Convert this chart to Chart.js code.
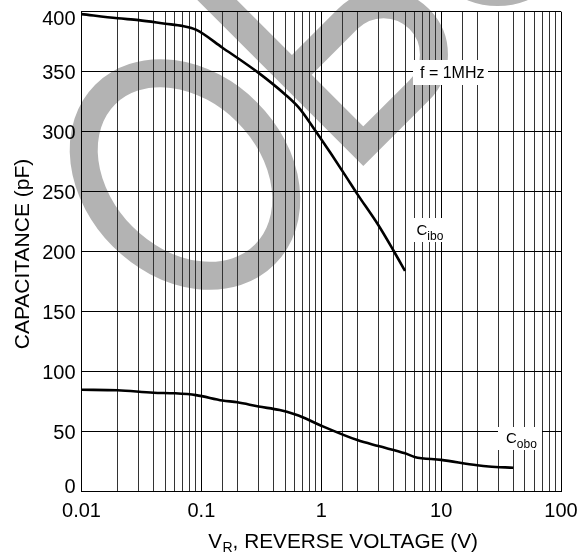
<!DOCTYPE html>
<html>
<head>
<meta charset="utf-8">
<script src="https://cdn.jsdelivr.net/npm/chart.js@4/dist/chart.umd.min.js"></script>
<style>
  html, body { margin: 0; padding: 0; background: #fff; }
  #wrap { width: 585px; height: 552px; }
</style>
</head>
<body>
<div id="wrap"><canvas id="cap" width="585" height="552"></canvas></div>
<script>
// Input capacitance Cibo versus reverse voltage
const ciboVoltage = [0.01, 0.02, 0.03, 0.05, 0.07, 0.09, 0.15, 0.3, 0.5, 0.65, 0.85, 1.2, 1.6, 2, 3, 4, 5];
const ciboCap     = [398, 394.5, 393, 390, 388, 385, 370, 349, 331, 320, 304, 282, 263, 248, 222, 201, 184];

// Output capacitance Cobo versus reverse voltage
const coboVoltage = [0.01, 0.02, 0.04, 0.06, 0.09, 0.15, 0.2, 0.3, 0.45, 0.6, 0.7, 1, 2, 3, 5, 6, 10, 20, 25, 40];
const coboCap     = [85, 84.5, 82.5, 82, 80.5, 76, 74.5, 71, 68, 64.5, 62, 55, 43, 38, 32, 29, 26.5, 22, 21, 20];

// Axis ticks
const xTickValues = [0.01, 0.1, 1, 10, 100];
const xTickLabels = ['0.01', '0.1', '1', '10', '100'];
const yTickValues = [0, 50, 100, 150, 200, 250, 300, 350, 400];

const FONT = '"Liberation Sans", Arial, Helvetica, sans-serif';

function toPoints(xs, ys) {
  return xs.map((x, i) => ({ x: x, y: ys[i] }));
}

function isDecade(v) {
  const l = Math.log10(v);
  return Math.abs(l - Math.round(l)) < 1e-9;
}

// Grey "OBSOLETE" stamp lying under the grid
const stampPlugin = {
  id: 'stamp',
  beforeDraw(chart) {
    const ctx = chart.ctx;
    ctx.save();
    ctx.fillStyle = '#ffffff';
    ctx.fillRect(0, 0, chart.width, chart.height);
    ctx.strokeStyle = 'rgb(179,179,179)';
    ctx.lineWidth = 28;
    ctx.lineJoin = 'miter';
    // letter O
    ctx.beginPath();
    ctx.ellipse(185, 174.5, 113, 88, Math.PI / 4, 0, Math.PI * 2);
    ctx.stroke();
    // letter B (lower bowl and stem)
    ctx.save();
    ctx.translate(363.3, 166);
    ctx.rotate(-Math.PI / 4);
    ctx.beginPath();
    ctx.moveTo(14, -420);
    ctx.lineTo(14, -14);
    ctx.lineTo(93, -14);
    ctx.arc(93, -64.5, 50.5, Math.PI / 2, -Math.PI / 2, true);
    ctx.lineTo(14, -115);
    ctx.stroke();
    ctx.restore();
    // edge of letter S
    ctx.beginPath();
    ctx.arc(497.5, -74, 66, 0, Math.PI * 2);
    ctx.stroke();
    ctx.restore();
  }
};

// Tick labels, axis titles and curve annotations
const textPlugin = {
  id: 'texts',
  afterDraw(chart) {
    const ctx = chart.ctx;
    const area = chart.chartArea;
    const xs = chart.scales.x;
    const ys = chart.scales.y;
    ctx.save();
    ctx.fillStyle = '#000';

    // y tick labels
    ctx.font = '20px ' + FONT;
    ctx.textAlign = 'right';
    ctx.textBaseline = 'alphabetic';
    yTickValues.forEach(v => {
      const py = ys.getPixelForValue(v);
      let base = py + 7.2;
      base = Math.max(base, area.top + 13.3);
      base = Math.min(base, area.bottom + 1.6);
      ctx.fillText(String(v), 75.5, base);
    });

    // x tick labels
    ctx.textAlign = 'center';
    xTickValues.forEach((v, i) => {
      const px = xs.getPixelForValue(v);
      ctx.fillText(xTickLabels[i], px, 517);
    });

    // x axis title with subscript
    ctx.textAlign = 'left';
    let x0 = 208.3;
    ctx.font = '20.5px ' + FONT;
    ctx.fillText('V', x0, 548);
    x0 += ctx.measureText('V').width;
    ctx.font = '14px ' + FONT;
    ctx.fillText('R', x0 + 0.5, 552);
    x0 += ctx.measureText('R').width + 0.5;
    ctx.font = '20.8px ' + FONT;
    ctx.fillText(', REVERSE VOLTAGE (V)', x0, 548);

    // y axis title
    ctx.save();
    ctx.translate(28.5, 254);
    ctx.rotate(-Math.PI / 2);
    ctx.textAlign = 'center';
    ctx.font = '21px ' + FONT;
    ctx.fillText('CAPACITANCE (pF)', 0, 0);
    ctx.restore();

    // annotation boxes
    ctx.fillStyle = '#fff';
    ctx.fillRect(413, 60, 75, 25);
    ctx.fillRect(413, 218, 34, 24);
    ctx.fillRect(498, 427, 44, 23);
    ctx.fillStyle = '#000';

    ctx.textAlign = 'left';
    ctx.font = '16px ' + FONT;
    ctx.fillText('f = 1MHz', 420, 77.5);

    ctx.font = '15px ' + FONT;
    ctx.fillText('C', 416.5, 235);
    let cw = ctx.measureText('C').width;
    ctx.font = '12px ' + FONT;
    ctx.fillText('ibo', 416.5 + cw, 240);

    ctx.font = '15px ' + FONT;
    ctx.fillText('C', 506, 442.7);
    cw = ctx.measureText('C').width;
    ctx.font = '12px ' + FONT;
    ctx.fillText('obo', 506 + cw, 448.3);

    ctx.restore();
  }
};

new Chart(document.getElementById('cap'), {
  type: 'scatter',
  data: {
    datasets: [
      {
        label: 'Cibo',
        data: toPoints(ciboVoltage, ciboCap),
        showLine: true,
        borderColor: '#000',
        borderWidth: 2.6,
        pointRadius: 0,
        cubicInterpolationMode: 'monotone',
        borderJoinStyle: 'round'
      },
      {
        label: 'Cobo',
        data: toPoints(coboVoltage, coboCap),
        showLine: true,
        borderColor: '#000',
        borderWidth: 2.6,
        pointRadius: 0,
        cubicInterpolationMode: 'monotone',
        borderJoinStyle: 'round'
      }
    ]
  },
  options: {
    responsive: false,
    animation: false,
    devicePixelRatio: 1,
    layout: { padding: { left: 81.5, right: 24, top: 11.7, bottom: 60.3 } },
    plugins: { legend: { display: false }, tooltip: { enabled: false } },
    scales: {
      x: {
        type: 'logarithmic',
        min: 0.01,
        max: 100,
        ticks: { display: false, autoSkip: false },
        grid: {
          drawTicks: false,
          lineWidth: 1,
          color: c => (c.tick && isDecade(c.tick.value)) ? '#000' : '#333'
        },
        border: { display: true, color: '#000', width: 1 },
        afterFit: s => { s.height = 0; }
      },
      y: {
        type: 'linear',
        min: 0,
        max: 400,
        ticks: { display: false, stepSize: 50 },
        grid: { drawTicks: false, lineWidth: 1, color: '#000' },
        border: { display: true, color: '#000', width: 1 },
        afterFit: s => { s.width = 0; }
      }
    }
  },
  plugins: [stampPlugin, textPlugin]
});
</script>
</body>
</html>
